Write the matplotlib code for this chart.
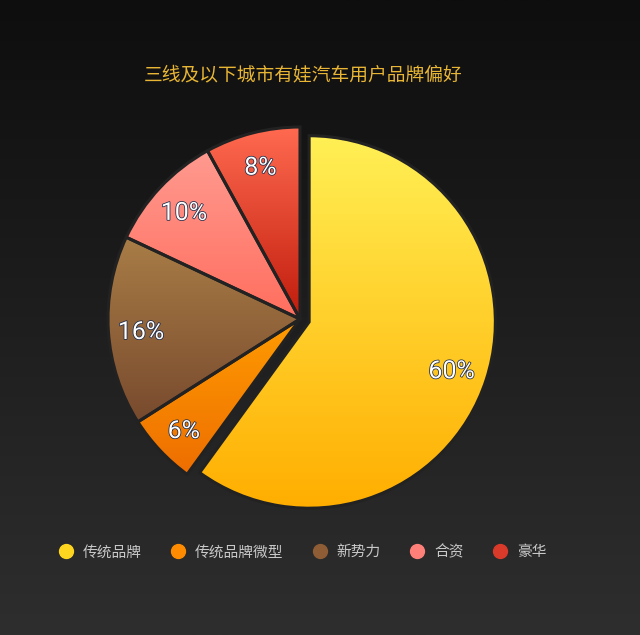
import numpy as np
import matplotlib
matplotlib.use('Agg')
import matplotlib.pyplot as plt
import matplotlib.patheffects as pe
from matplotlib.colors import LinearSegmentedColormap

plt.rcParams['font.family'] = ['Noto Sans CJK SC', 'DejaVu Sans']

title = '三线及以下城市有娃汽车用户品牌偏好'
brands = ['传统品牌', '传统品牌微型', '新势力', '合资', '豪华']
shares = [60, 6, 16, 10, 8]
# gradient top/bottom colours per slice
grad_top = ['#FFF055', '#FF9C00', '#A97D46', '#FF9A90', '#FF6A50']
grad_bot = ['#FFAE00', '#EE6E00', '#784A2E', '#FF6E5E', '#C01C0C']
legend_colors = ['#FFD61F', '#FF8C00', '#8E5C35', '#FF8078', '#D93A2A']

W, H = 640, 635
fig = plt.figure(figsize=(W / 100, H / 100), dpi=100)

# background gradient
bg = fig.add_axes([0, 0, 1, 1], zorder=-10)
bg.axis('off')
bgcm = LinearSegmentedColormap.from_list('bg', ['#0e0e0e', '#2e2e2e'])
bg.imshow(np.linspace(0, 1, 256).reshape(-1, 1), cmap=bgcm, aspect='auto',
          extent=[0, 1, 0, 1])

# pie axes: centre at (300, 319) px, radius 192 px
R = 192
cx, cy = 300, H - 319
half = 210
ax = fig.add_axes([(cx - half) / W, (cy - half) / H, 2 * half / W, 2 * half / H])
ax.axis('off')

pctdist = 0.83
wedges, texts, autotexts = ax.pie(
    shares, startangle=90, counterclock=False, explode=[0.05, 0, 0, 0, 0],
    autopct='%.0f%%', pctdistance=pctdist,
    wedgeprops=dict(edgecolor='#222222', linewidth=2.2, facecolor='none'),
    textprops=dict(fontsize=18, color='white', family=['Roboto', 'DejaVu Sans'],
                   fontweight='normal'))
wedges[0].set_radius(0.97)

for w, c1, c2 in zip(wedges, grad_top, grad_bot):
    ext = w.get_path().get_extents()
    cm = LinearSegmentedColormap.from_list('g', [c2, c1])
    im = ax.imshow(np.linspace(0, 1, 256).reshape(-1, 1), cmap=cm, aspect='auto',
                   origin='lower', extent=[ext.x0, ext.x1, ext.y0, ext.y1], zorder=0.5)
    im.set_clip_path(w)

# labels sit at pctdistance from the common centre (ignoring the explode)
for w, t in zip(wedges, autotexts):
    mid = np.deg2rad((w.theta1 + w.theta2) / 2)
    t.set_position((pctdist * np.cos(mid), pctdist * np.sin(mid) - 3 / R))
    t.set_path_effects([pe.Stroke(linewidth=1.1, foreground='#1b2a4a'), pe.Normal()])

lim = half / R
ax.set_xlim(-lim, lim)
ax.set_ylim(-lim, lim)

fig.text(303 / W, 1 - 75 / H, title, ha='center', va='center',
         fontsize=13.5, color='#E8B634')

handles = [plt.Line2D([], [], marker='o', linestyle='none', markersize=10,
                      markerfacecolor=c, markeredgecolor=c) for c in legend_colors]
leg = fig.legend(handles, brands, loc='center left', ncol=5,
                 bbox_to_anchor=(58.5 / W, 1 - 552 / H), frameon=False,
                 borderaxespad=0, borderpad=0,
                 handletextpad=0.66, columnspacing=1.95, handlelength=1.0,
                 prop=dict(size=10.6))
for t in leg.get_texts():
    t.set_color('#C8C8C8')

fig.savefig('out.png', dpi=100)
